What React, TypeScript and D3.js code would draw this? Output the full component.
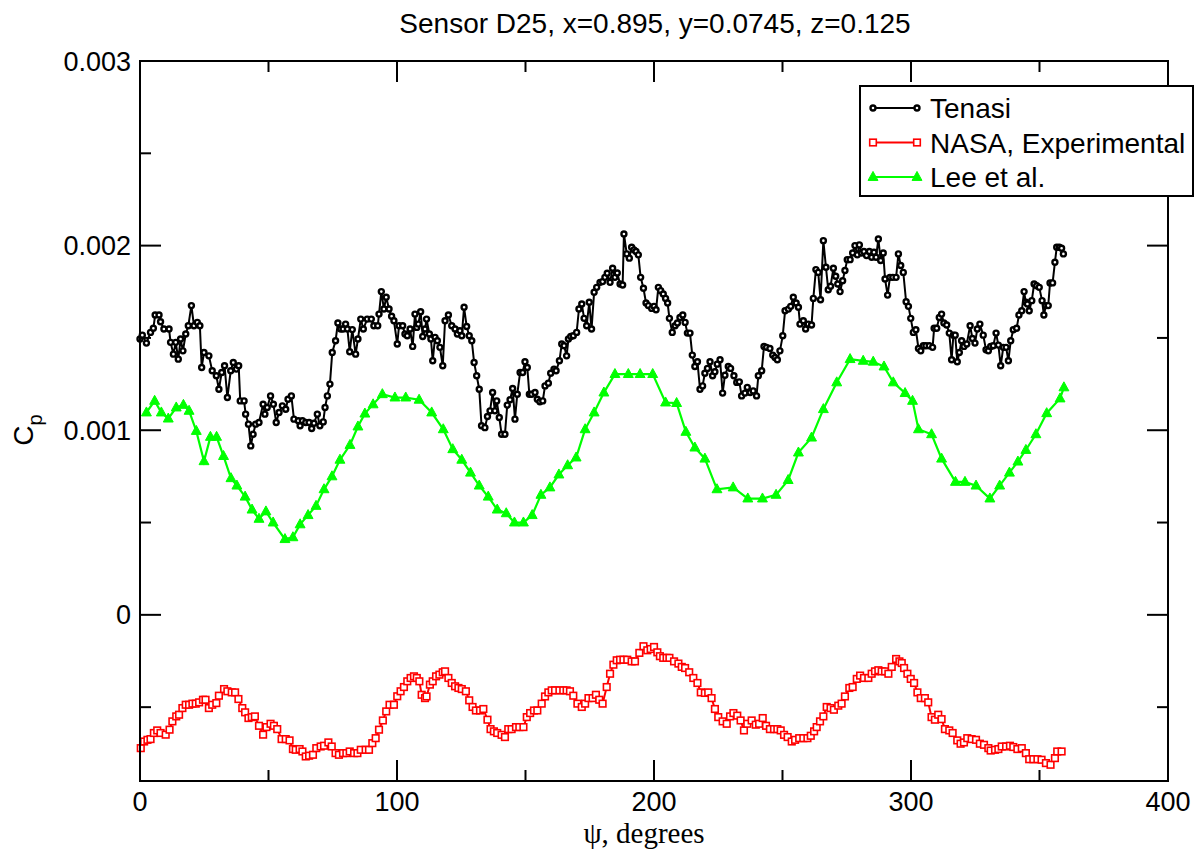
import React from "react";
import * as d3 from "d3";

// Values of Cp are given in units of 1e-3
const TITLE = "Sensor D25, x=0.895, y=0.0745, z=0.125";
const SERIES_NAMES = ["Tenasi", "NASA, Experimental", "Lee et al."];
const X_MAJOR = [0, 100, 200, 300, 400];
const X_MINOR = [50, 150, 250, 350];
const Y_MAJOR = [0, 1, 2, 3];
const Y_MAJOR_LABELS = ["0", "0.001", "0.002", "0.003"];
const Y_MINOR = [-0.5, 0.5, 1.5, 2.5];

const TENASI: [number, number][] = [
  [0, 1.494], [0.9, 1.515], [2.5, 1.472], [4.1, 1.53], [5.2, 1.552], [5.9, 1.624], [7.4, 1.624], [8.0, 1.588],
  [9.3, 1.548], [11.3, 1.548], [11.9, 1.476], [13.0, 1.412], [13.9, 1.476], [14.9, 1.385], [15.8, 1.494],
  [16.7, 1.43], [17.8, 1.521], [18.8, 1.566], [20.0, 1.675], [21.0, 1.566], [22.3, 1.584], [23.3, 1.566],
  [24.0, 1.34], [24.9, 1.421], [26.8, 1.403], [28.1, 1.322], [29.7, 1.295], [30.7, 1.222], [31.8, 1.313],
  [32.9, 1.349], [34.0, 1.177], [35.3, 1.322], [36.3, 1.367], [37.5, 1.331], [38.4, 1.349], [39.0, 1.159],
  [40.5, 1.159], [41.1, 1.087], [42.2, 1.033], [43.1, 0.915], [44.0, 0.978], [45.0, 1.033], [46.3, 1.042],
  [47.9, 1.141], [48.6, 1.087], [49.5, 1.123], [50.8, 1.186], [51.9, 1.141], [53.0, 1.042], [54.1, 1.096],
  [55.4, 1.132], [56.7, 1.114], [57.6, 1.168], [58.9, 1.186], [59.9, 1.06], [61.6, 1.051], [62.3, 1.024],
  [63.2, 1.051], [64.5, 1.042], [65.8, 1.042], [66.8, 1.009], [67.7, 1.038], [69.0, 1.087], [70.0, 1.024],
  [71.3, 1.045], [72.0, 1.123], [72.9, 1.186], [73.9, 1.25], [74.8, 1.421], [76.1, 1.485], [77.0, 1.581],
  [78.1, 1.548], [79.0, 1.548], [80.0, 1.575], [80.7, 1.548], [81.6, 1.425], [82.6, 1.545], [83.9, 1.412],
  [84.8, 1.494], [85.9, 1.602], [86.9, 1.548], [88.4, 1.602], [90.0, 1.602], [91.0, 1.566], [92.5, 1.566],
  [93.0, 1.629], [93.9, 1.751], [94.9, 1.657], [95.8, 1.72], [96.9, 1.657], [97.9, 1.617], [98.8, 1.593],
  [100.1, 1.467], [100.8, 1.566], [102.2, 1.566], [103.1, 1.521], [104.0, 1.512], [105.1, 1.548],
  [106.1, 1.454], [107.0, 1.629], [107.7, 1.557], [108.3, 1.575], [109.2, 1.642], [110.0, 1.508],
  [110.9, 1.548], [111.5, 1.602], [112.6, 1.521], [113.2, 1.494], [113.9, 1.376], [114.8, 1.503],
  [115.7, 1.485], [116.7, 1.449], [117.8, 1.349], [118.7, 1.593], [120.0, 1.624], [121.3, 1.566],
  [122.6, 1.548], [123.5, 1.521], [124.5, 1.539], [125.2, 1.512], [126.1, 1.666], [127.1, 1.562],
  [128.1, 1.512], [129.1, 1.485], [130.0, 1.367], [131.0, 1.295], [132.0, 1.222], [132.9, 1.024],
  [134.2, 1.014], [135.2, 1.074], [136.2, 1.105], [137.2, 1.204], [138.1, 1.105], [138.8, 1.159],
  [139.8, 1.069], [140.7, 0.978], [142.0, 0.978], [142.9, 1.136], [144.0, 1.165], [145.0, 1.226],
  [145.9, 1.06], [146.8, 1.195], [147.9, 1.313], [148.9, 1.313], [149.8, 1.371], [150.7, 1.34],
  [151.5, 1.195], [152.4, 1.195], [153.7, 1.204], [154.6, 1.168], [155.6, 1.154], [156.7, 1.159],
  [157.6, 1.24], [158.9, 1.255], [159.8, 1.309], [161.1, 1.331], [161.9, 1.322], [163.2, 1.376],
  [164.1, 1.467], [165.0, 1.458], [166.0, 1.403], [166.7, 1.494], [167.6, 1.508], [168.6, 1.512],
  [169.9, 1.53], [170.8, 1.657], [171.9, 1.684], [172.8, 1.606], [173.8, 1.566], [174.8, 1.693],
  [175.7, 1.548], [176.7, 1.747], [177.7, 1.774], [179.0, 1.801], [180.0, 1.805], [180.9, 1.828],
  [181.8, 1.85], [182.9, 1.801], [183.9, 1.877], [184.8, 1.828], [185.7, 1.852], [186.8, 1.792],
  [187.8, 1.787], [188.3, 2.063], [189.4, 1.955], [190.4, 1.932], [191.3, 1.991], [192.2, 1.977],
  [193.0, 1.968], [193.9, 1.95], [194.8, 1.828], [195.9, 1.769], [196.9, 1.689], [197.8, 1.675],
  [199.1, 1.66], [200.0, 1.671], [200.8, 1.653], [201.7, 1.774], [202.6, 1.756], [203.6, 1.738],
  [204.5, 1.714], [205.3, 1.689], [206.0, 1.606], [207.1, 1.53], [208.2, 1.566], [209.1, 1.581],
  [210.1, 1.611], [211.2, 1.624], [212.1, 1.584], [213.0, 1.526], [214.0, 1.526], [214.9, 1.407],
  [215.9, 1.345], [216.9, 1.371], [217.9, 1.222], [218.9, 1.24], [219.8, 1.309], [220.8, 1.335],
  [221.8, 1.371], [222.8, 1.295], [223.7, 1.317], [224.6, 1.358], [225.7, 1.382], [226.7, 1.201],
  [227.6, 1.298], [228.9, 1.345], [229.8, 1.335], [231.1, 1.295], [232.2, 1.259], [233.2, 1.262],
  [234.1, 1.186], [235.4, 1.201], [236.3, 1.232], [237.4, 1.204], [238.6, 1.213], [239.9, 1.186],
  [240.6, 1.295], [241.9, 1.322], [242.8, 1.454], [243.8, 1.449], [245.1, 1.443], [246.2, 1.407],
  [247.1, 1.394], [248.0, 1.382], [249.0, 1.43], [250.1, 1.512], [251.0, 1.647], [252.3, 1.656],
  [253.2, 1.671], [254.2, 1.72], [255.3, 1.689], [256.2, 1.666], [256.8, 1.575], [258.1, 1.593],
  [259.0, 1.548], [260.0, 1.575], [261.3, 1.57], [262.0, 1.714], [263.0, 1.87], [263.9, 1.855],
  [264.8, 1.707], [265.9, 2.027], [266.9, 1.883], [267.8, 1.761], [268.7, 1.78], [269.8, 1.877],
  [270.7, 1.834], [271.5, 1.792], [272.4, 1.751], [273.4, 1.81], [274.3, 1.865], [275.2, 1.924],
  [276.3, 1.924], [277.3, 1.96], [278.2, 2.0], [279.1, 1.95], [279.9, 2.004], [280.8, 1.96],
  [281.7, 1.968], [282.7, 1.946], [283.8, 1.968], [284.7, 1.937], [285.6, 1.964], [286.4, 1.937],
  [287.3, 2.036], [288.2, 1.919], [289.2, 1.96], [289.9, 1.819], [290.9, 1.732], [291.8, 1.828],
  [292.9, 1.828], [294.2, 1.828], [295.1, 1.955], [296.0, 1.892], [297.0, 1.855], [298.1, 1.696],
  [299.0, 1.671], [299.9, 1.606], [300.9, 1.53], [301.9, 1.544], [302.9, 1.443], [303.8, 1.43],
  [304.8, 1.458], [305.8, 1.458], [307.1, 1.458], [308.4, 1.449], [309.0, 1.552], [310.0, 1.552],
  [311.0, 1.611], [311.9, 1.629], [312.8, 1.581], [313.9, 1.57], [314.9, 1.526], [315.8, 1.382],
  [316.5, 1.515], [317.2, 1.515], [318.0, 1.371], [318.8, 1.421], [319.7, 1.485], [320.6, 1.454],
  [321.7, 1.467], [323.0, 1.566], [323.9, 1.497], [324.9, 1.472], [325.8, 1.548], [326.8, 1.575],
  [328.1, 1.515], [329.2, 1.436], [330.1, 1.43], [331.0, 1.454], [332.0, 1.458], [333.1, 1.526],
  [334.0, 1.461], [334.9, 1.349], [335.9, 1.449], [337.0, 1.449], [337.9, 1.376], [338.8, 1.485],
  [339.8, 1.544], [341.1, 1.552], [342.0, 1.624], [343.1, 1.647], [344.0, 1.751], [344.7, 1.693],
  [345.3, 1.684], [346.0, 1.647], [347.0, 1.702], [347.9, 1.792], [348.9, 1.783], [349.9, 1.774],
  [351.0, 1.702], [351.7, 1.624], [352.5, 1.675], [353.4, 1.675], [354.1, 1.798], [355.1, 1.798],
  [356.0, 1.91], [356.7, 1.991], [357.7, 1.991], [358.6, 1.986], [359.3, 1.955],
];

const NASA: [number, number][] = [
  [0.3, -0.722], [1.6, -0.686], [2.9, -0.677], [4.1, -0.673], [5.4, -0.64], [6.7, -0.626], [8.0, -0.64],
  [10.0, -0.649], [11.5, -0.622], [12.6, -0.577], [14.1, -0.55], [15.2, -0.541], [16.5, -0.505],
  [17.8, -0.487], [19.1, -0.487], [20.4, -0.481], [21.7, -0.481], [23.0, -0.474], [24.5, -0.46],
  [25.5, -0.46], [26.8, -0.505], [28.1, -0.487], [29.7, -0.478], [30.7, -0.438], [32.7, -0.402],
  [34.0, -0.414], [35.7, -0.42], [37.0, -0.42], [38.3, -0.456], [39.8, -0.505], [40.9, -0.528],
  [42.2, -0.559], [43.5, -0.554], [44.7, -0.55], [46.3, -0.601], [47.9, -0.649], [49.2, -0.608],
  [50.8, -0.59], [52.1, -0.601], [53.4, -0.619], [55.1, -0.673], [56.7, -0.673], [58.2, -0.68],
  [59.5, -0.727], [60.6, -0.731], [62.1, -0.727], [63.2, -0.74], [64.5, -0.767], [65.8, -0.763],
  [67.3, -0.758], [68.6, -0.722], [70.3, -0.713], [71.6, -0.709], [73.3, -0.691], [74.6, -0.713],
  [76.1, -0.749], [77.4, -0.758], [79.0, -0.749], [80.3, -0.749], [81.6, -0.74], [83.3, -0.749],
  [84.6, -0.749], [85.9, -0.731], [87.8, -0.731], [89.1, -0.731], [90.4, -0.695], [91.7, -0.668],
  [93.0, -0.622], [94.5, -0.572], [95.8, -0.523], [97.1, -0.487], [98.8, -0.487], [100.1, -0.441],
  [101.4, -0.414], [102.7, -0.391], [104.0, -0.36], [105.3, -0.342], [106.6, -0.333], [107.7, -0.342],
  [108.7, -0.36], [109.6, -0.433], [110.9, -0.451], [111.5, -0.442], [112.8, -0.378], [113.9, -0.36],
  [115.2, -0.333], [116.5, -0.324], [117.8, -0.311], [118.7, -0.306], [120.0, -0.342], [121.3, -0.369],
  [122.6, -0.387], [123.9, -0.396], [125.2, -0.402], [126.8, -0.414], [128.1, -0.463], [129.4, -0.499],
  [130.7, -0.518], [132.3, -0.518], [133.6, -0.51], [135.2, -0.568], [136.4, -0.619], [137.7, -0.631],
  [139.0, -0.64], [140.7, -0.65], [142.0, -0.662], [143.3, -0.619], [144.6, -0.619], [146.3, -0.608],
  [147.6, -0.608], [149.2, -0.608], [150.5, -0.554], [151.8, -0.532], [153.3, -0.518], [154.6, -0.518],
  [156.3, -0.481], [157.6, -0.442], [158.9, -0.42], [160.2, -0.409], [161.5, -0.409], [163.2, -0.409],
  [164.7, -0.409], [166.0, -0.409], [167.3, -0.414], [168.6, -0.438], [170.2, -0.481], [171.9, -0.499],
  [173.2, -0.481], [174.5, -0.451], [176.1, -0.451], [177.4, -0.433], [178.7, -0.46], [180.0, -0.481],
  [181.6, -0.391], [182.9, -0.319], [184.2, -0.27], [185.5, -0.246], [186.8, -0.243], [188.1, -0.243],
  [189.6, -0.243], [191.3, -0.252], [192.6, -0.252], [194.3, -0.206], [195.9, -0.17], [197.4, -0.192],
  [198.7, -0.185], [200.0, -0.174], [201.3, -0.203], [202.3, -0.224], [203.6, -0.233], [204.9, -0.233],
  [206.0, -0.233], [207.8, -0.252], [209.5, -0.264], [210.8, -0.282], [212.1, -0.288], [213.7, -0.311],
  [215.3, -0.342], [216.9, -0.369], [218.2, -0.42], [219.8, -0.423], [221.1, -0.42], [222.4, -0.451],
  [223.7, -0.51], [225.0, -0.554], [226.7, -0.577], [228.3, -0.59], [229.6, -0.55], [230.9, -0.532],
  [232.4, -0.546], [233.7, -0.572], [235.0, -0.626], [236.3, -0.59], [238.0, -0.572], [239.6, -0.595],
  [240.9, -0.59], [242.3, -0.559], [243.6, -0.601], [245.1, -0.619], [246.7, -0.619], [248.0, -0.619],
  [249.3, -0.626], [250.6, -0.65], [252.0, -0.662], [253.6, -0.686], [254.9, -0.677], [256.5, -0.668],
  [258.1, -0.668], [259.7, -0.668], [261.0, -0.655], [262.3, -0.631], [263.3, -0.608], [264.6, -0.577],
  [265.9, -0.55], [267.2, -0.499], [268.7, -0.505], [270.0, -0.514], [271.7, -0.492], [273.0, -0.481],
  [274.3, -0.442], [276.0, -0.396], [277.3, -0.391], [278.9, -0.347], [280.2, -0.329], [281.7, -0.342],
  [283.4, -0.342], [284.7, -0.319], [286.0, -0.306], [287.3, -0.3], [288.6, -0.306], [289.9, -0.306],
  [291.2, -0.319], [292.5, -0.282], [294.2, -0.239], [295.5, -0.252], [296.4, -0.261], [297.3, -0.288],
  [298.6, -0.319], [299.9, -0.347], [301.2, -0.369], [302.5, -0.42], [303.8, -0.451], [305.4, -0.451],
  [306.7, -0.474], [308.0, -0.554], [309.3, -0.568], [310.6, -0.541], [311.9, -0.565], [313.2, -0.619],
  [314.9, -0.626], [316.2, -0.64], [318.0, -0.68], [319.3, -0.698], [320.6, -0.691], [321.9, -0.668],
  [323.6, -0.673], [325.3, -0.677], [326.8, -0.698], [328.4, -0.704], [330.1, -0.722], [331.0, -0.735],
  [332.7, -0.731], [334.0, -0.727], [335.3, -0.713], [337.0, -0.713], [338.5, -0.709], [339.8, -0.716],
  [341.4, -0.727], [343.1, -0.722], [344.7, -0.749], [346.0, -0.782], [347.6, -0.782], [349.2, -0.782],
  [350.8, -0.785], [352.5, -0.803], [354.3, -0.812], [356.0, -0.776], [356.9, -0.74], [358.6, -0.74],
];

const LEE: [number, number][] = [
  [2.5, 1.096], [5.7, 1.159], [8.3, 1.096], [11.0, 1.063], [14.1, 1.123], [16.9, 1.137], [19.1, 1.105],
  [21.9, 0.996], [24.9, 0.832], [27.4, 0.964], [29.8, 0.964], [32.5, 0.86], [35.4, 0.74], [37.7, 0.7],
  [40.9, 0.64], [43.6, 0.57], [46.3, 0.52], [49.0, 0.56], [51.8, 0.5], [56.4, 0.41], [59.5, 0.42],
  [62.3, 0.49], [65.4, 0.54], [68.5, 0.59], [71.6, 0.68], [74.7, 0.75], [77.8, 0.84], [81.7, 0.92],
  [84.8, 1.02], [87.5, 1.09], [90.7, 1.14], [94.3, 1.195], [99.2, 1.177], [103.4, 1.177], [108.6, 1.165],
  [113.5, 1.096], [118.0, 1.005], [121.7, 0.897], [125.2, 0.84], [128.6, 0.77], [132.0, 0.7],
  [135.5, 0.64], [139.0, 0.57], [142.5, 0.55], [145.7, 0.5], [149.2, 0.5], [152.6, 0.54], [156.0, 0.65],
  [159.5, 0.69], [163.0, 0.76], [166.4, 0.81], [169.7, 0.852], [173.2, 1.005], [176.7, 1.096],
  [180.5, 1.204], [184.8, 1.304], [190.0, 1.304], [194.6, 1.304], [199.5, 1.304], [204.5, 1.15],
  [208.8, 1.147], [212.4, 0.991], [215.9, 0.906], [219.8, 0.846], [224.5, 0.68], [230.8, 0.69],
  [236.5, 0.63], [242.2, 0.63], [247.5, 0.65], [252.2, 0.73], [256.2, 0.879], [261.3, 0.96],
  [265.9, 1.114], [271.1, 1.259], [276.3, 1.385], [281.4, 1.376], [285.3, 1.371], [289.5, 1.345],
  [293.1, 1.259], [297.7, 1.201], [300.6, 1.159], [302.9, 1.005], [308.0, 0.978], [311.9, 0.846],
  [317.3, 0.72], [321.0, 0.72], [325.3, 0.7], [330.7, 0.63], [334.5, 0.7], [338.3, 0.77], [341.6, 0.83],
  [344.7, 0.893], [348.6, 0.978], [352.8, 1.092], [358.0, 1.172], [359.5, 1.232],
];

const UNIT = 1e-3;
const SANS = "'Liberation Sans', Arial, Helvetica, sans-serif";
const SERIF = "'Liberation Serif', 'Times New Roman', serif";

export default function App() {
  const W = 1199;
  const H = 851;
  const L = 140, R = 1168, T = 61, B = 781;
  const x = d3.scaleLinear().domain([0, 400]).range([L, R]);
  const y = d3.scaleLinear().domain([-0.9 * UNIT, 3 * UNIT]).range([B, T]);
  const line = d3
    .line<[number, number]>()
    .x((d) => x(d[0]))
    .y((d) => y(d[1] * UNIT));

  const tri = (cx: number, cy: number, s: number) =>
    `M${cx},${cy - s * 0.62}L${cx + s * 0.55},${cy + s * 0.38}L${cx - s * 0.55},${cy + s * 0.38}Z`;

  const majorLen = 21;
  const minorLen = 11;

  const legendX = 860, legendY = 86, legendW = 333, legendH = 110;
  const rows = [108, 142.5, 177];

  return (
    <svg
      width={W}
      height={H}
      style={{ position: "absolute", left: 0, top: 0, background: "#fff" }}
      xmlns="http://www.w3.org/2000/svg"
    >
      <rect x={0} y={0} width={W} height={H} fill="#fff" />
      <text x={655} y={33} textAnchor="middle" fontFamily={SANS} fontSize={28}>
        {TITLE}
      </text>

      {/* series */}
      <path d={line(TENASI) || ""} fill="none" stroke="#000" strokeWidth={2} />
      {TENASI.map((d, i) => (
        <circle key={"t" + i} cx={x(d[0])} cy={y(d[1] * UNIT)} r={2.5} fill="#fff" stroke="#000" strokeWidth={2.4} />
      ))}
      <path d={line(NASA) || ""} fill="none" stroke="#ff0000" strokeWidth={2} />
      {NASA.map((d, i) => (
        <rect
          key={"n" + i}
          x={x(d[0]) - 3.3}
          y={y(d[1] * UNIT) - 3.3}
          width={6.6}
          height={6.6}
          fill="#fff"
          stroke="#ff0000"
          strokeWidth={1.6}
        />
      ))}
      <path d={line(LEE) || ""} fill="none" stroke="#00ff00" strokeWidth={2.2} />
      {LEE.map((d, i) => (
        <path key={"l" + i} d={tri(x(d[0]), y(d[1] * UNIT), 9)} fill="#00ff00" stroke="#00ff00" strokeWidth={1} />
      ))}

      {/* frame */}
      <rect x={L} y={T} width={R - L} height={B - T} fill="none" stroke="#000" strokeWidth={2} />

      {/* x ticks */}
      {X_MAJOR.map((v) => (
        <g key={"xm" + v}>
          <line x1={x(v)} x2={x(v)} y1={B} y2={B - majorLen} stroke="#000" strokeWidth={2} />
          <line x1={x(v)} x2={x(v)} y1={T} y2={T + majorLen} stroke="#000" strokeWidth={2} />
          <text x={x(v)} y={811} textAnchor="middle" fontFamily={SANS} fontSize={27}>
            {v}
          </text>
        </g>
      ))}
      {X_MINOR.map((v) => (
        <g key={"xn" + v}>
          <line x1={x(v)} x2={x(v)} y1={B} y2={B - minorLen} stroke="#000" strokeWidth={2} />
          <line x1={x(v)} x2={x(v)} y1={T} y2={T + minorLen} stroke="#000" strokeWidth={2} />
        </g>
      ))}
      {/* y ticks */}
      {Y_MAJOR.map((v, i) => (
        <g key={"ym" + v}>
          <line x1={L} x2={L + majorLen} y1={y(v * UNIT)} y2={y(v * UNIT)} stroke="#000" strokeWidth={2} />
          <line x1={R} x2={R - majorLen} y1={y(v * UNIT)} y2={y(v * UNIT)} stroke="#000" strokeWidth={2} />
          <text x={131} y={y(v * UNIT) + 9.5} textAnchor="end" fontFamily={SANS} fontSize={27}>
            {Y_MAJOR_LABELS[i]}
          </text>
        </g>
      ))}
      {Y_MINOR.map((v) => (
        <g key={"yn" + v}>
          <line x1={L} x2={L + minorLen} y1={y(v * UNIT)} y2={y(v * UNIT)} stroke="#000" strokeWidth={2} />
          <line x1={R} x2={R - minorLen} y1={y(v * UNIT)} y2={y(v * UNIT)} stroke="#000" strokeWidth={2} />
        </g>
      ))}

      {/* axis labels */}
      <text x={644} y={843} textAnchor="middle" fontFamily={SERIF} fontSize={29}>
        ψ, degrees
      </text>
      <text transform="translate(33,430) rotate(-90)" textAnchor="middle" fontFamily={SANS} fontSize={28}>
        C
        <tspan fontSize={20} dy={9}>
          p
        </tspan>
      </text>

      {/* legend */}
      <rect x={legendX} y={legendY} width={legendW} height={legendH} fill="#fff" stroke="#000" strokeWidth={2} />
      {SERIES_NAMES.map((name, i) => {
        const ry = rows[i];
        const x1 = 873, x2 = 917;
        const color = i === 0 ? "#000" : i === 1 ? "#ff0000" : "#00ff00";
        return (
          <g key={"lg" + i}>
            <line x1={x1} x2={x2} y1={ry} y2={ry} stroke={color} strokeWidth={2} />
            {i === 0 &&
              [x1, x2].map((px) => (
                <circle key={px} cx={px} cy={ry} r={2.5} fill="#fff" stroke="#000" strokeWidth={2.4} />
              ))}
            {i === 1 &&
              [x1, x2].map((px) => (
                <rect key={px} x={px - 3.3} y={ry - 3.3} width={6.6} height={6.6} fill="#fff" stroke="#ff0000" strokeWidth={1.6} />
              ))}
            {i === 2 &&
              [x1, x2].map((px) => <path key={px} d={tri(px, ry, 9)} fill="#00ff00" stroke="#00ff00" strokeWidth={1} />)}
            <text x={930} y={ry + 10} fontFamily={SANS} fontSize={28}>
              {name}
            </text>
          </g>
        );
      })}
    </svg>
  );
}
